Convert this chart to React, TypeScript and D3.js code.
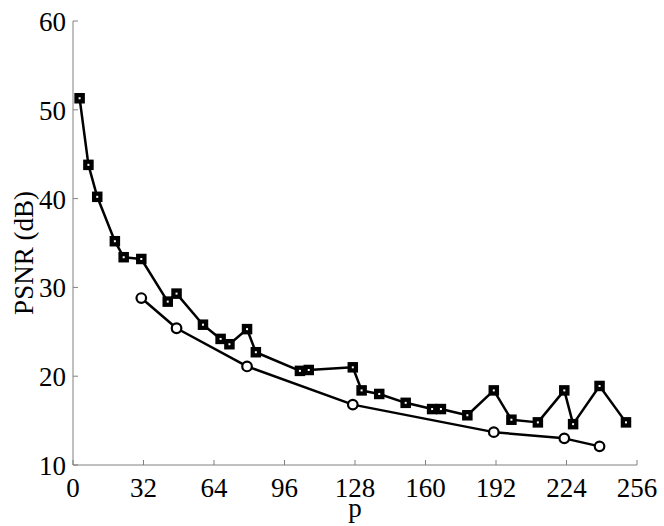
import React from "react";
import * as d3 from "d3";

const sqX = [3, 7, 11, 19, 23, 31, 43, 47, 59, 67, 71, 79, 83, 103, 107, 127, 131, 139, 151, 163, 167, 179, 191, 199, 211, 223, 227, 239, 251];
const sqY = [51.3, 43.8, 40.2, 35.2, 33.4, 33.2, 28.4, 29.3, 25.8, 24.2, 23.6, 25.3, 22.7, 20.6, 20.7, 21.0, 18.4, 18.0, 17.0, 16.3, 16.3, 15.6, 18.4, 15.1, 14.8, 18.4, 14.6, 18.9, 14.8];
const ciX = [31, 47, 79, 127, 191, 223, 239];
const ciY = [28.8, 25.4, 21.1, 16.8, 13.7, 13.0, 12.1];
const xTicks = [0, 32, 64, 96, 128, 160, 192, 224, 256];
const yTicks = [10, 20, 30, 40, 50, 60];

export default function App() {
  const W = 664, H = 526;
  const x = d3.scaleLinear().domain([0, 256]).range([73, 637]);
  const y = d3.scaleLinear().domain([10, 60]).range([465, 21]);
  const line = d3.line<[number, number]>().x(d => x(d[0])).y(d => y(d[1]));
  const sq = sqX.map((v, i) => [v, sqY[i]] as [number, number]);
  const ci = ciX.map((v, i) => [v, ciY[i]] as [number, number]);
  const font = "'Liberation Serif', 'Times New Roman', serif";
  const axisColor = "#808080";
  const fs = 27;
  return (
    <svg width={W} height={H} style={{ position: "absolute", left: 0, top: 0, background: "#fff" }}>
      <line x1={x(0)} x2={x(256)} y1={y(10)} y2={y(10)} stroke={axisColor} strokeWidth={1} />
      <line x1={x(0)} x2={x(0)} y1={y(10)} y2={y(60)} stroke={axisColor} strokeWidth={1} />
      {xTicks.map(t => (
        <g key={"xt" + t}>
          <line x1={x(t)} x2={x(t)} y1={y(10)} y2={y(10) - 5} stroke={axisColor} />
          <text x={x(t)} y={497} textAnchor="middle" fontFamily={font} fontSize={fs} fill="#000">{t}</text>
        </g>
      ))}
      {yTicks.map(t => (
        <g key={"yt" + t}>
          <line x1={x(0)} x2={x(0) + 5} y1={y(t)} y2={y(t)} stroke={axisColor} />
          <text x={66} y={y(t) + 10} textAnchor="end" fontFamily={font} fontSize={fs} fill="#000">{t}</text>
        </g>
      ))}
      <text x={355} y={517} textAnchor="middle" fontFamily={font} fontSize={fs} fill="#000">p</text>
      <text transform={`translate(33,253) rotate(-90)`} textAnchor="middle" fontFamily={font} fontSize={fs} fill="#000">PSNR (dB)</text>
      <path d={line(sq) || ""} fill="none" stroke="#000" strokeWidth={2.5} strokeLinejoin="round" />
      <path d={line(ci) || ""} fill="none" stroke="#000" strokeWidth={2.5} strokeLinejoin="round" />
      {sq.map((d, i) => (
        <g key={"s" + i}>
          <rect x={x(d[0]) - 4.5} y={y(d[1]) - 4.5} width={9} height={9} fill="#000" stroke="#000" strokeWidth={1.5} />
          <rect x={x(d[0]) - 1} y={y(d[1]) - 1} width={2} height={2} fill="#fff" />
        </g>
      ))}
      {ci.map((d, i) => (
        <circle key={"c" + i} cx={x(d[0])} cy={y(d[1])} r={4.8} fill="#fff" stroke="#000" strokeWidth={2.2} />
      ))}
    </svg>
  );
}
